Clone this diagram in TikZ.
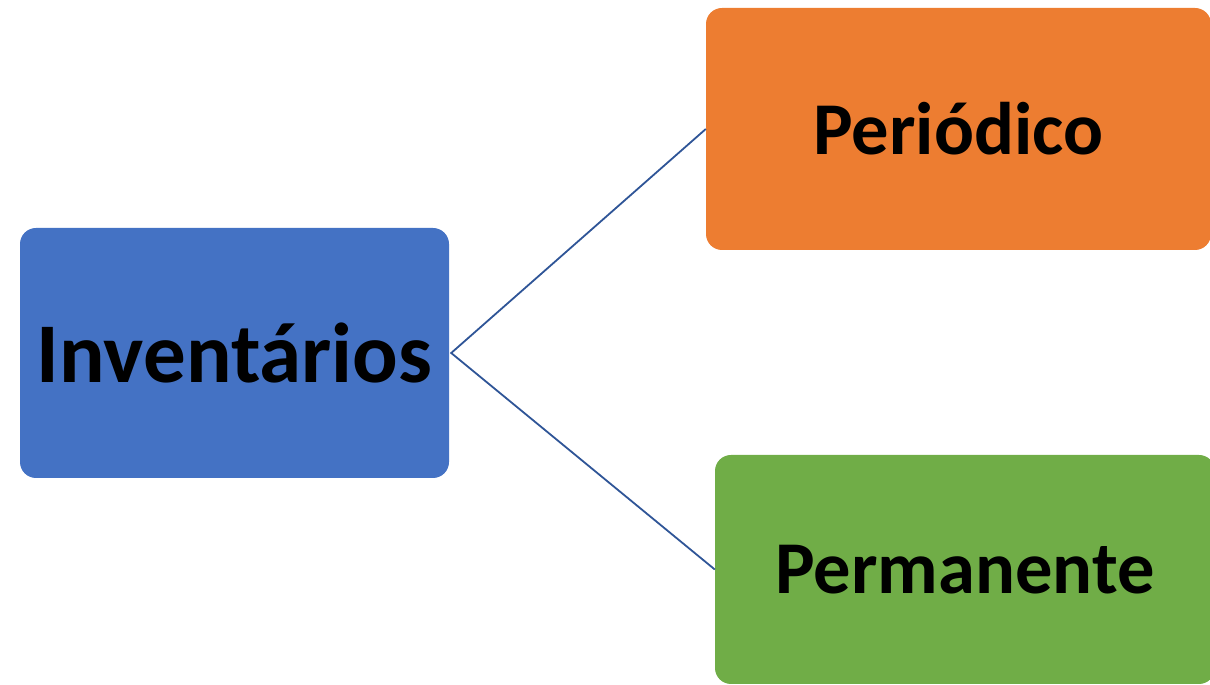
\documentclass[tikz,border=0pt]{standalone}
\usepackage{fontspec}
\setmainfont{Carlito}
\usepackage{tikz}
\usetikzlibrary{positioning}
\usepackage{xcolor}
\definecolor{invblue}{HTML}{4472C4}
\definecolor{perorange}{HTML}{ED7D31}
\definecolor{permgreen}{HTML}{70AD47}
\definecolor{linkblue}{HTML}{2F5597}

\begin{document}
\begin{tikzpicture}[x=1pt, y=1pt, box/.style={rounded corners=16pt, inner sep=0pt, font=\bfseries}]
\useasboundingbox (0,0) rectangle (1210,685);
\node[box, fill=invblue, minimum width=429pt, minimum height=250pt, font=\bfseries\fontsize{85}{90}\selectfont] (inv) at (234.5,332) {Inventários};
\node[box, fill=perorange, minimum width=505pt, minimum height=242pt, font=\bfseries\fontsize{74.5}{80}\selectfont] (per) at (958.5,556) {Periódico};
\node[box, fill=permgreen, minimum width=500pt, minimum height=229pt, font=\bfseries\fontsize{74.5}{80}\selectfont] (perm) at (965,115.5) {Permanente};

\draw[linkblue, line width=1.8pt] (per.west) -- ([xshift=2pt]inv.east) -- (perm.west);
\end{tikzpicture}
\end{document}
